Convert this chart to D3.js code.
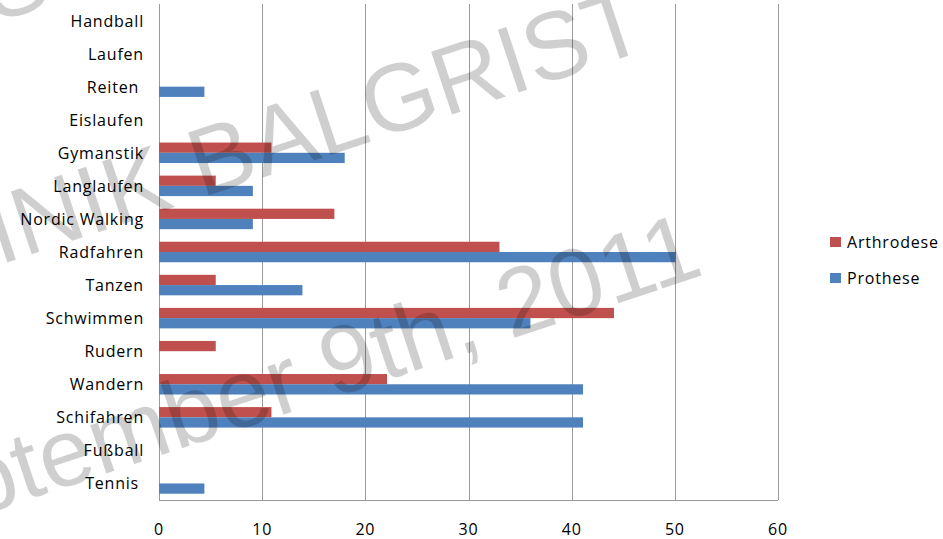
<!DOCTYPE html>
<html>
<head>
    <meta charset="utf-8">
    <style>
        body {
            margin: 0;
            background: #fff;
        }

        text.label {
            font-family: "Open Sans", sans-serif;
            font-size: 16px;
            letter-spacing: 0.8px;
            fill: #000;
            white-space: pre;
        }

        line.grid {
            stroke: #9a9a9a;
            stroke-width: 1px;
            shape-rendering: crispEdges;
        }

        text.watermark {
            font-family: "Liberation Sans", Arial, sans-serif;
            font-size: 96px;
            fill: #000;
            fill-opacity: 0.19;
        }
    </style>
</head>
<body>
<div id="chart"></div>
<script src="https://cdn.jsdelivr.net/npm/d3@7"></script>
<script>

    var sports = ["Handball", "Laufen", "Reiten ", "Eislaufen", "Gymanstik", "Langlaufen", "Nordic Walking",
        "Radfahren", "Tanzen", "Schwimmen", "Rudern", "Wandern", "Schifahren", "Fußball", "Tennis "];
    var seriesNames = ["Arthrodese", "Prothese"];
    var arthrodese = [0, 0, 0, 0, 10.9, 5.5, 17.0, 33.0, 5.5, 44.1, 5.5, 22.1, 10.9, 0, 0];
    var prothese = [0, 0, 4.4, 0, 18.0, 9.1, 9.1, 50.1, 13.9, 36.0, 0, 41.1, 41.1, 0, 4.4];
    var xTicks = [0, 10, 20, 30, 40, 50, 60];
    var colors = ["#c0504d", "#4f81bd"];
    var watermarkLines = ["UNIVERSITÄTS", "KLINIK BALGRIST", "September 9th, 2011"];

    var width = 943;
    var height = 539;

    var rows = sports.map(function (s, i) {
        return {name: s, values: [arthrodese[i], prothese[i]]};
    });

    var svg = d3.select("#chart").append("svg")
        .attr("width", width)
        .attr("height", height);

    var x = d3.scaleLinear().domain([0, 60]).range([159, 778]);
    var y = d3.scaleBand().domain(sports).range([4, 500]).paddingInner(0.38).paddingOuter(0.19);
    var ySub = d3.scaleBand().domain(seriesNames).range([0, y.bandwidth()]);

    // gridlines (incl. the 0 line as left axis)
    svg.append("g").selectAll("line.grid")
        .data(xTicks)
        .enter().append("line")
        .attr("class", "grid")
        .attr("x1", function (d) { return Math.round(x(d)) + 0.5; })
        .attr("x2", function (d) { return Math.round(x(d)) + 0.5; })
        .attr("y1", 4)
        .attr("y2", 500);

    svg.append("line")
        .attr("class", "grid")
        .attr("x1", x(0))
        .attr("x2", x(60))
        .attr("y1", 500.5)
        .attr("y2", 500.5);

    // bars
    var groups = svg.append("g").selectAll("g.row")
        .data(rows)
        .enter().append("g")
        .attr("class", "row")
        .attr("transform", function (d) { return "translate(0," + y(d.name) + ")"; });

    groups.selectAll("rect")
        .data(function (d) {
            return d.values.map(function (v, i) { return {series: seriesNames[i], value: v, i: i}; });
        })
        .enter().append("rect")
        .attr("x", x(0))
        .attr("y", function (d) { return ySub(d.series); })
        .attr("height", ySub.bandwidth())
        .attr("width", function (d) { return x(d.value) - x(0); })
        .attr("fill", function (d) { return colors[d.i]; });

    // category labels
    svg.append("g").selectAll("text.cat")
        .data(sports)
        .enter().append("text")
        .attr("class", "label cat")
        .attr("x", 144)
        .attr("y", function (d) { return y(d) + y.bandwidth() / 2 + 6; })
        .attr("text-anchor", "end")
        .text(function (d) { return d; });

    // x tick labels
    svg.append("g").selectAll("text.tick")
        .data(xTicks)
        .enter().append("text")
        .attr("class", "label tick")
        .attr("x", function (d) { return x(d); })
        .attr("y", 535)
        .attr("text-anchor", "middle")
        .text(function (d) { return d; });

    // legend
    var legend = svg.append("g").selectAll("g.legend")
        .data(seriesNames)
        .enter().append("g")
        .attr("class", "legend")
        .attr("transform", function (d, i) { return "translate(830," + (242 + i * 36) + ")"; });

    legend.append("rect")
        .attr("x", 0)
        .attr("y", -5)
        .attr("width", 11)
        .attr("height", 10)
        .attr("fill", function (d, i) { return colors[i]; });

    legend.append("text")
        .attr("class", "label")
        .attr("x", 17)
        .attr("y", 6)
        .text(function (d) { return d; });

    // watermark on top
    var wmEnds = [[55, 3], [652, 48], [706, 274]];
    svg.append("g").selectAll("text.watermark")
        .data(watermarkLines)
        .enter().append("text")
        .attr("class", "watermark")
        .attr("text-anchor", "end")
        .attr("transform", function (d, i) {
            return "translate(" + wmEnds[i][0] + "," + wmEnds[i][1] + ") rotate(-18.4)";
        })
        .text(function (d) { return d; });

</script>
</body>
</html>
